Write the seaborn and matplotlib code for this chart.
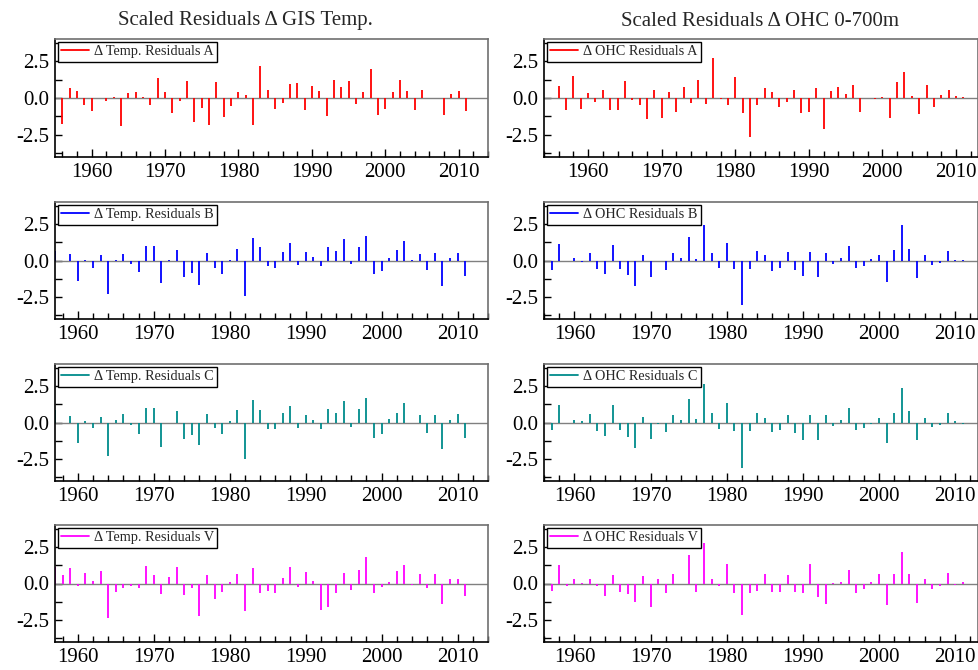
import numpy as np
import pandas as pd
import matplotlib
matplotlib.use("Agg")
import matplotlib.pyplot as plt
import seaborn as sns
from matplotlib.ticker import MultipleLocator, FixedLocator
from matplotlib.lines import Line2D

# ---------------- data ----------------
years_tA = list(range(1956, 2012))
temp_A = [-1.77, 0.68, 0.45, -0.5, -0.9, 0.02, -0.23, 0.09, -1.9, 0.34,
          0.39, 0.09, -0.5, 1.36, 0.41, -1.05, -0.2, 1.18, -1.6, -0.68,
          -1.84, 1.07, -1.3, -0.55, 0.43, 0.2, -1.82, 2.2, 0.57, -0.73,
          -0.34, 0.98, 1.05, -0.8, 0.84, 0.5, -1.23, 1.25, 0.75, 1.18,
          -0.41, 0.43, 2.0, -1.16, -0.73, 0.43, 1.25, 0.5, -0.84, 0.57,
          0.02, 0.02, -1.18, 0.27, 0.5, -0.9]

years_oA = list(range(1956, 2012))
ohc_A = [0.8, -0.8, 1.52, -0.75, 0.34, -0.3, 0.57, -0.8, -0.84, 1.14,
         -0.11, -0.45, -1.43, 0.55, -1.36, 0.43, -0.98, 0.73, -0.32, 1.23,
         -0.39, 2.73, -0.09, -0.5, 1.39, -1.02, -2.64, -0.5, 0.7, 0.43,
         -0.64, -0.27, 0.55, -1.05, -0.98, 0.68, -2.07, 0.5, 0.75, 0.3,
         0.91, -0.98, 0.02, -0.07, 0.07, -1.34, 1.11, 1.73, 0.16, -1.09,
         0.91, -0.61, 0.2, 0.57, 0.14, 0.09]

years_t = list(range(1957, 2012))
temp_B = [0.68, -0.02, 0.43, -1.39, 0.02, -0.48, 0.36, -2.32, 0.05, 0.43,
          -0.25, -0.77, 1.02, 1.02, -1.57, 0.02, 0.75, -1.14, -0.86, -1.66,
          0.48, -0.52, -0.89, 0.02, 0.82, -2.43, 1.57, 0.89, -0.39, -0.5,
          0.61, 1.2, -0.3, 0.55, 0.27, -0.39, 0.89, 0.64, 1.45, -0.25,
          0.95, 1.7, -0.93, -0.7, 0.2, 0.7, 1.36, 0.02, 0.45, -0.68,
          0.48, -1.77, 0.16, 0.5, -1.05]
temp_C = [0.84, 0.0, 0.43, -1.39, 0.09, -0.41, 0.41, -2.3, 0.14, 0.61,
          -0.16, -0.77, 1.02, 1.02, -1.66, 0.0, 0.77, -1.14, -0.84, -1.55,
          0.57, -0.36, -0.82, 0.07, 0.86, -2.48, 1.55, 0.86, -0.45, -0.43,
          0.64, 1.16, -0.39, 0.48, 0.2, -0.43, 0.91, 0.64, 1.5, -0.3,
          0.95, 1.66, -1.05, -0.8, 0.27, 0.68, 1.32, 0.0, 0.5, -0.73,
          0.48, -1.82, 0.16, 0.57, -1.07]
temp_V = [1.14, 0.57, 1.09, -0.16, 0.73, 0.16, 0.84, -2.36, -0.61, -0.32,
          -0.16, -0.32, 1.2, 0.61, -0.75, 0.43, 1.16, -0.82, -0.3, -2.25,
          0.59, -1.05, -0.57, 0.07, 0.64, -1.91, 1.07, -0.68, -0.52, -0.68,
          0.41, 1.11, -0.25, 0.8, 0.18, -1.82, -1.61, -0.64, 0.73, -0.43,
          0.89, 1.8, -0.64, -0.25, 0.07, 0.86, 1.27, -0.11, 0.64, -0.32,
          0.64, -1.39, 0.32, 0.32, -0.86]

years_o = list(range(1957, 2012))
ohc_B = [-0.64, 1.16, 0.0, 0.2, -0.07, 0.52, -0.59, -0.93, 1.07, -0.61,
         -1.02, -1.73, 0.39, -1.14, 0.0, -0.64, 0.48, 0.18, 1.59, 0.11,
         2.41, 0.48, -0.5, 1.23, -0.59, -3.02, -0.59, 0.66, 0.39, -0.7,
         -0.52, 0.57, -0.66, -1.07, 0.59, -1.16, 0.48, -0.23, 0.14, 1.02,
         -0.52, -0.36, 0.07, 0.41, -1.45, 0.75, 2.41, 0.82, -1.2, 0.36,
         -0.32, -0.2, 0.64, 0.01, 0.01]
ohc_C = [-0.48, 1.23, 0.0, 0.2, 0.07, 0.61, -0.55, -0.91, 1.18, -0.48,
         -0.98, -1.75, 0.36, -1.16, -0.11, -0.64, 0.5, 0.16, 1.64, 0.27,
         2.64, 0.64, -0.45, 1.3, -0.55, -3.11, -0.61, 0.64, 0.32, -0.66,
         -0.48, 0.52, -0.73, -1.18, 0.5, -1.18, 0.5, -0.23, 0.18, 0.98,
         -0.52, -0.39, -0.09, 0.34, -1.41, 0.68, 2.34, 0.82, -1.18, 0.34,
         -0.32, -0.16, 0.66, 0.09, -0.07]
ohc_V = [-0.48, 1.25, -0.18, 0.3, 0.05, 0.32, -0.16, -0.86, 0.59, -0.61,
         -0.75, -1.27, 0.52, -1.59, 0.3, -0.68, 0.64, -0.02, 1.95, -0.61,
         2.77, 0.32, -0.2, 1.36, -0.68, -2.16, -0.64, -0.48, 0.66, -0.55,
         -0.57, 0.59, -0.57, -0.68, 1.3, -0.89, -1.39, 0.05, 0.09, 0.91,
         -0.64, -0.41, 0.09, 0.66, -1.48, 0.68, 2.18, 0.66, -1.32, 0.32,
         -0.41, -0.18, 0.73, -0.11, 0.09]

titles = ["Scaled Residuals \u0394 GIS Temp.", "Scaled Residuals \u0394 OHC 0-700m"]
y_ticks = [-2.5, 0.0, 2.5]
y_tick_labels = ["-2.5", "0.0", "2.5"]
x_ticks = [1960, 1970, 1980, 1990, 2000, 2010]

panels = [
    # (row, col, years, values, label, color, xlim)
    (0, 0, years_tA, temp_A, "\u0394 Temp. Residuals A", "#ff0000", (1955, 2014)),
    (0, 1, years_oA, ohc_A, "\u0394 OHC Residuals A", "#ff0000", (1954, 2013)),
    (1, 0, years_t, temp_B, "\u0394 Temp. Residuals B", "#0000ff", (1957, 2014)),
    (1, 1, years_o, ohc_B, "\u0394 OHC Residuals B", "#0000ff", (1956, 2013)),
    (2, 0, years_t, temp_C, "\u0394 Temp. Residuals C", "#008b8b", (1957, 2014)),
    (2, 1, years_o, ohc_C, "\u0394 OHC Residuals C", "#008b8b", (1956, 2013)),
    (3, 0, years_t, temp_V, "\u0394 Temp. Residuals V", "#ff00ff", (1957, 2014)),
    (3, 1, years_o, ohc_V, "\u0394 OHC Residuals V", "#ff00ff", (1956, 2013)),
]

# ---------------- style ----------------
sns.set_theme(style="ticks")
plt.rcParams['font.family'] = ['Liberation Serif', 'DejaVu Serif']
plt.rcParams['axes.unicode_minus'] = False

W, H = 979, 670
fig = plt.figure(figsize=(W / 100, H / 100), dpi=100)

col_x = [(55, 488), (544, 978)]
row_y = [(39, 157), (202, 319), (364, 481), (525, 642)]

for row, col, yrs, vals, lab, colr, xl in panels:
    x0, x1 = col_x[col]
    y0, y1 = row_y[row]
    ax = fig.add_axes([x0 / W, 1 - y1 / H, (x1 - x0) / W, (y1 - y0) / H])
    df = pd.DataFrame({"year": yrs, "value": vals})
    ax.axhline(0, color="#808080", lw=1.0, zorder=1)
    ax.vlines(df["year"], 0, df["value"], color=colr, lw=1.3, zorder=2)
    ax.set_xlim(*xl)
    ax.set_ylim(-4, 4)
    ax.yaxis.set_major_locator(FixedLocator(y_ticks))
    ax.set_yticklabels(y_tick_labels)
    ax.yaxis.set_minor_locator(MultipleLocator(1.25))
    ax.xaxis.set_major_locator(FixedLocator(x_ticks))
    ax.xaxis.set_minor_locator(MultipleLocator(2))
    ax.tick_params(axis="both", which="both", direction="in", labelsize=15,
                   colors="black", width=1.0)
    ax.tick_params(axis="x", which="major", length=6, pad=4)
    ax.tick_params(axis="x", which="minor", length=4)
    ax.tick_params(axis="y", which="major", length=5, pad=4)
    ax.tick_params(axis="y", which="minor", length=5)
    ax.set_xlabel("")
    ax.set_ylabel("")
    for side in ["left", "bottom"]:
        ax.spines[side].set_color("black")
        ax.spines[side].set_linewidth(1.2)
    for side in ["top", "right"]:
        ax.spines[side].set_color("#707070")
        ax.spines[side].set_linewidth(1.2)
    handle = Line2D([0], [0], color=colr, lw=1.3)
    leg = ax.legend([handle], [lab], loc="upper left", fontsize=10.3,
                    frameon=True, fancybox=False, framealpha=1,
                    edgecolor="black", borderaxespad=0.2, handlelength=1.9,
                    borderpad=0.25, handletextpad=0.35)
    leg.get_frame().set_linewidth(1.0)

fig.text(245 / W, 1 - 21 / H, titles[0], ha="center", va="center", fontsize=15)
fig.text(760 / W, 1 - 21 / H, titles[1], ha="center", va="center", fontsize=15)

fig.savefig("out.png", dpi=100)
